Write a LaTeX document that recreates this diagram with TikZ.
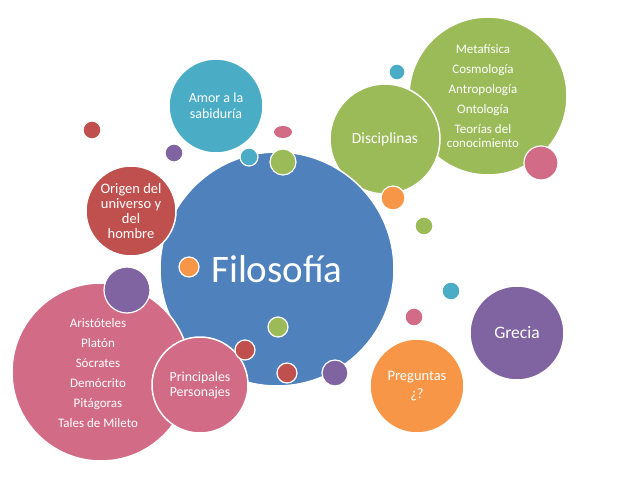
\documentclass[tikz,border=0pt]{standalone}
\usepackage{fontspec}
\setmainfont{Carlito}
\usepackage{xcolor}
\usepackage{tikz}
\usetikzlibrary{shapes.geometric}

\definecolor{fblue}{HTML}{4F81BD}
\definecolor{fgreen}{HTML}{9BBB59}
\definecolor{fteal}{HTML}{4BACC6}
\definecolor{fred}{HTML}{C0504D}
\definecolor{fpurple}{HTML}{8064A2}
\definecolor{forange}{HTML}{F79646}
\definecolor{fpink}{HTML}{D16B86}

\begin{document}
\begin{tikzpicture}[x=1pt,y=-1pt,
	bub/.style={circle, draw=white, line width=1.5pt, fill=#1, inner sep=0pt, text=white, align=center},
	dot/.style={circle, draw=white, line width=1.2pt, fill=#1, inner sep=0pt}]
	\useasboundingbox (0,0) rectangle (638,479);
		% back circles
		\node [bub=fteal, minimum size=94pt, font=\fontsize{14}{16}\selectfont] (amor) at (216,106) {Amor a la\\sabiduría};
		\node [bub=fgreen, minimum size=158pt] (ramas) at (488,96) {};
		\node [text=white, align=center, font=\fontsize{13}{14.5}\selectfont] (ramastxt) at (483,96) {Metafísica\\[5.5pt]Cosmología\\[5.5pt]Antropología\\[5.5pt]Ontología\\[5.5pt]Teorías del\\conocimiento};
		\node [bub=fgreen, minimum size=110pt, font=\fontsize{15.5}{18}\selectfont] (disc) at (385,139) {Disciplinas};
		% main circle
		\node [bub=fblue, minimum size=234pt, font=\fontsize{39}{44}\selectfont] (filo) at (277,269) {Filosofía};
		\node [bub=fred, minimum size=90pt, font=\fontsize{14.5}{14.7}\selectfont] (origen) at (131,211) {Origen del\\universo y\\del\\hombre};
		\node [bub=fpink, minimum size=178pt] (pers) at (101,372) {};
		\node [text=white, align=center, font=\fontsize{13}{15}\selectfont] (perstxt) at (98,373) {Aristóteles\\[5pt]Platón\\[5pt]Sócrates\\[5pt]Demócrito\\[5pt]Pitágoras\\[5pt]Tales de Mileto};
		\node [dot=fpurple, minimum size=46pt] (lila) at (127,290) {};
		\node [bub=fpink, minimum size=96pt, font=\fontsize{13.8}{15}\selectfont] (princ) at (200,385) {Principales\\Personajes};
		\node [bub=forange, minimum size=94pt, font=\fontsize{14.5}{18}\selectfont] (preg) at (417,386) {Preguntas\\¿?};
		\node [bub=fpurple, minimum size=94pt, font=\fontsize{17.5}{20}\selectfont] (grecia) at (517,333) {Grecia};
		% small dots
		\foreach \x/\y/\r/\c [count=\i] in {189/267/10/forange, 278/327/10/fgreen, 245/350/10/fred, 287/373/10/fred,
				335/373/13/fpurple, 249/157/9/fteal, 283/162/13/fgreen, 174/153/9/fpurple, 92/130/9/fred,
				397/72/8/fteal, 393/198/12/forange, 424/226/9/fgreen, 541/163/17/fpink, 414/317/9/fpink, 451/291/9/fteal}
			\node [dot=\c, minimum size={2*\r pt}] (dot\i) at (\x,\y) {};
		\node [ellipse, fill=fpink, inner sep=0pt, minimum width=18pt, minimum height=12pt] (gota) at (283,132) {};
	\end{tikzpicture}
\end{document}
